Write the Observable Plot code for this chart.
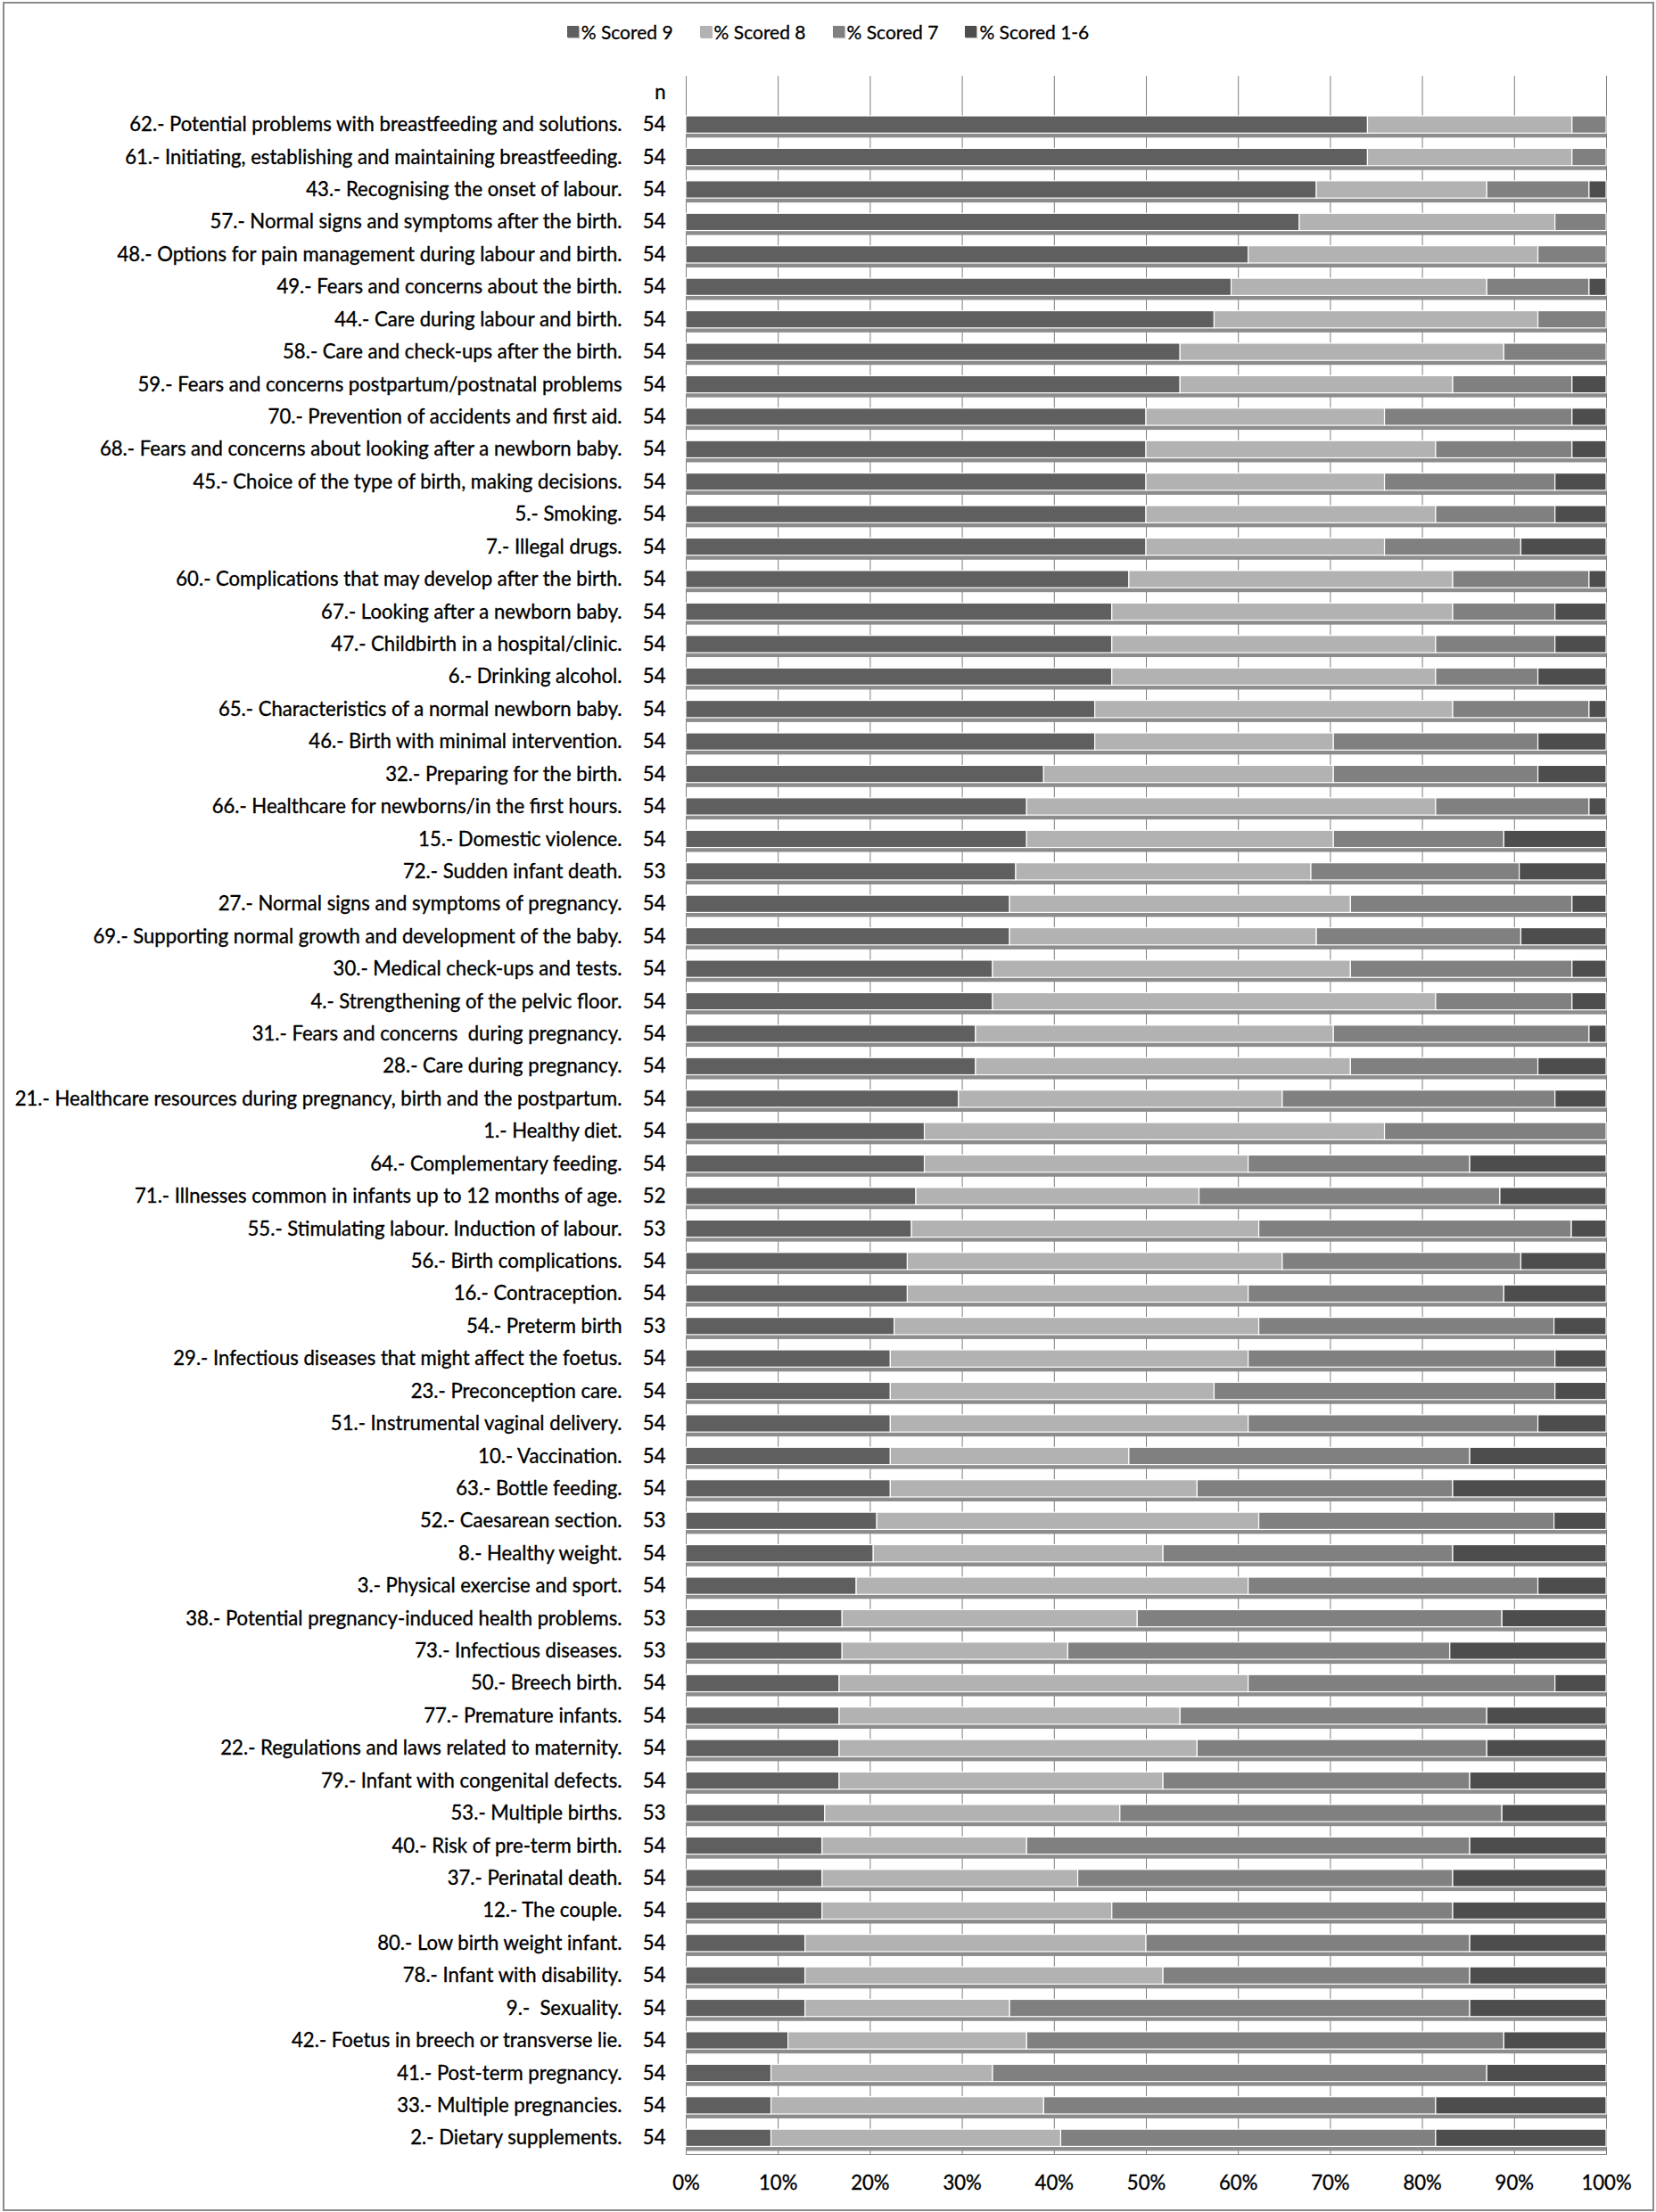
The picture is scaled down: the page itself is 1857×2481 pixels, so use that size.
<!DOCTYPE html>
<html>
<head>
<meta charset="utf-8">
<script src="https://cdn.jsdelivr.net/npm/d3@7"></script>
<script src="https://cdn.jsdelivr.net/npm/@observablehq/plot@0.6"></script>
<style>
  html, body { margin: 0; padding: 0; background: #fff; }
  #page { position: relative; width: 1857px; height: 2481px; overflow: hidden; font-family: Lato, "Noto Sans", sans-serif; }
  #frame { position: absolute; left: 3px; top: 2px; width: 1852px; height: 2478px; border: 2px solid #8a8a8a; box-sizing: border-box; pointer-events: none; }
  #legend { height: 70px; display: flex; justify-content: center; align-items: center; font-size: 21px; color: #000; -webkit-text-stroke: 0.3px #000; }
  #chart { height: 2411px; }
  #chart svg { display: block; }
  .item { display: flex; align-items: center; margin: 0 15px; }
  .sw { width: 13px; height: 13px; margin-right: 3px; box-shadow: 1px 1px 1px #bbb; }
  g[aria-label="bar-shadow"] { filter: blur(1.6px); }
</style>
</head>
<body>
<div id="page">
  <div id="legend"></div>
  <div id="chart"></div>
  <div id="frame"></div>
</div>
<script>
const seriesNames = ["% Scored 9", "% Scored 8", "% Scored 7", "% Scored 1-6"];
const seriesColors = ["#5f5f5f", "#b2b2b2", "#808080", "#4d4d4d"];

const topics = [
  "62.- Potential problems with breastfeeding and solutions.",
  "61.- Initiating, establishing and maintaining breastfeeding.",
  "43.- Recognising the onset of labour.",
  "57.- Normal signs and symptoms after the birth.",
  "48.- Options for pain management during labour and birth.",
  "49.- Fears and concerns about the birth.",
  "44.- Care during labour and birth.",
  "58.- Care and check-ups after the birth.",
  "59.- Fears and concerns postpartum/postnatal problems",
  "70.- Prevention of accidents and first aid.",
  "68.- Fears and concerns about looking after a newborn baby.",
  "45.- Choice of the type of birth, making decisions.",
  "5.- Smoking.",
  "7.- Illegal drugs.",
  "60.- Complications that may develop after the birth.",
  "67.- Looking after a newborn baby.",
  "47.- Childbirth in a hospital/clinic.",
  "6.- Drinking alcohol.",
  "65.- Characteristics of a normal newborn baby.",
  "46.- Birth with minimal intervention.",
  "32.- Preparing for the birth.",
  "66.- Healthcare for newborns/in the first hours.",
  "15.- Domestic violence.",
  "72.- Sudden infant death.",
  "27.- Normal signs and symptoms of pregnancy.",
  "69.- Supporting normal growth and development of the baby.",
  "30.- Medical check-ups and tests.",
  "4.- Strengthening of the pelvic floor.",
  "31.- Fears and concerns  during pregnancy.",
  "28.- Care during pregnancy.",
  "21.- Healthcare resources during pregnancy, birth and the postpartum.",
  "1.- Healthy diet.",
  "64.- Complementary feeding.",
  "71.- Illnesses common in infants up to 12 months of age.",
  "55.- Stimulating labour. Induction of labour.",
  "56.- Birth complications.",
  "16.- Contraception.",
  "54.- Preterm birth",
  "29.- Infectious diseases that might affect the foetus.",
  "23.- Preconception care.",
  "51.- Instrumental vaginal delivery.",
  "10.- Vaccination.",
  "63.- Bottle feeding.",
  "52.- Caesarean section.",
  "8.- Healthy weight.",
  "3.- Physical exercise and sport.",
  "38.- Potential pregnancy-induced health problems.",
  "73.- Infectious diseases.",
  "50.- Breech birth.",
  "77.- Premature infants.",
  "22.- Regulations and laws related to maternity.",
  "79.- Infant with congenital defects.",
  "53.- Multiple births.",
  "40.- Risk of pre-term birth.",
  "37.- Perinatal death.",
  "12.- The couple.",
  "80.- Low birth weight infant.",
  "78.- Infant with disability.",
  "9.-  Sexuality.",
  "42.- Foetus in breech or transverse lie.",
  "41.- Post-term pregnancy.",
  "33.- Multiple pregnancies.",
  "2.- Dietary supplements."
];

const nValues = [54,54,54,54,54,54,54,54,54,54,54,54,54,54,54,54,54,54,54,54,54,54,54,53,54,54,54,54,54,54,54,54,54,52,53,54,54,53,54,54,54,54,54,53,54,54,53,53,54,54,54,54,53,54,54,54,54,54,54,54,54,54,54];

// counts of respondents per score group
const scored9  = [40,40,37,36,33,32,31,29,29,27,27,27,27,27,26,25,25,25,24,24,21,20,20,19,19,19,18,18,17,17,16,14,14,13,13,13,13,12,12,12,12,12,12,11,11,10,9,9,9,9,9,9,8,8,8,8,7,7,7,6,5,5,5];
const scored8  = [12,12,10,15,17,15,19,19,16,14,17,14,17,14,19,20,19,19,21,14,17,24,18,17,20,18,21,26,21,22,19,27,19,16,20,22,20,21,21,19,21,14,18,22,17,23,17,13,24,20,21,19,17,12,15,17,20,21,12,14,13,16,17];
const scored7  = [2,2,6,3,4,6,4,6,7,11,8,10,7,8,8,6,7,6,8,12,12,9,10,12,13,12,13,8,15,11,16,13,13,17,18,14,15,17,18,20,17,20,15,17,17,17,21,22,18,18,17,18,22,26,22,20,19,18,27,28,29,23,22];
const scored16 = [0,0,1,0,0,1,0,0,2,2,2,3,3,5,1,3,3,4,1,4,4,1,6,5,2,5,2,2,1,4,3,0,8,6,2,5,6,3,3,3,4,8,9,3,9,4,6,9,3,7,7,8,6,8,9,9,8,8,8,6,7,10,10];

const xTicks = [0, 0.1, 0.2, 0.3, 0.4, 0.5, 0.6, 0.7, 0.8, 0.9, 1];
const headerKey = "";
const headerText = "n";

const groups = [scored9, scored8, scored7, scored16];
const rows = topics.flatMap((t, i) => groups.map((g, j) => ({topic: t, series: seriesNames[j], count: g[i]})))
  .filter(d => d.count > 0);
const nRows = [{topic: headerKey, n: headerText}, ...topics.map((t, i) => ({topic: t, n: String(nValues[i])}))];

// legend
const legend = document.getElementById("legend");
seriesNames.forEach((s, i) => {
  const it = document.createElement("div");
  it.className = "item";
  const sw = document.createElement("div");
  sw.className = "sw";
  sw.style.background = seriesColors[i];
  const tx = document.createElement("span");
  tx.textContent = s;
  it.appendChild(sw); it.appendChild(tx);
  legend.appendChild(it);
});

// font-size calibration (style only): match the printed width of a few labels
const FONT = "Lato, 'Noto Sans', sans-serif";
const calib = [[0, 553], [2, 351], [60, 251], [61, 264], [62, 242]];
const ctx = document.createElement("canvas").getContext("2d");
ctx.font = "100px " + FONT;
const ratios = calib.map(([i, w]) => w / ctx.measureText(topics[i]).width * 100).sort((a, b) => a - b);
let FS = ratios[Math.floor(ratios.length / 2)];
if (!(FS > 14 && FS < 30)) FS = 20.6;

const chart = Plot.plot({
  width: 1857,
  height: 2411,
  marginTop: 15,
  marginBottom: 65,
  marginLeft: 769,
  marginRight: 56,
  style: {fontFamily: FONT, fontSize: FS + "px", color: "#000", background: "transparent", overflow: "visible"},
  x: {domain: [0, 1], axis: null},
  y: {domain: [headerKey, ...topics], paddingInner: 0.47, paddingOuter: 0.235, align: 0.5, round: false, axis: null},
  color: {domain: seriesNames, range: seriesColors},
  marks: [
    Plot.ruleX(xTicks, {stroke: "#7f7f7f", strokeWidth: 1}),
    Plot.barX(topics, {x1: 0, x2: 1, y: d => d, fill: "#8c8c8c", dy: 5, insetTop: 2, ariaLabel: "bar-shadow"}),
    Plot.barX(rows, Plot.stackX({x: "count", y: "topic", z: "series", fill: "series", offset: "normalize", order: seriesNames, stroke: "#ffffff", strokeWidth: 1.2})),
    Plot.axisY({tickSize: 0, tickPadding: 72, label: null, fill: "#000", textStroke: "#000", textStrokeWidth: 0.35, fontSize: FS}),
    Plot.text(nRows, {y: "topic", text: "n", frameAnchor: "left", textAnchor: "end", dx: -23, fill: "#000", stroke: "#000", strokeWidth: 0.35, fontSize: FS}),
    Plot.axisX({ticks: xTicks, tickFormat: d3.format(".0%"), tickSize: 0, tickPadding: 24, label: null, fill: "#000", textStroke: "#000", textStrokeWidth: 0.35, fontSize: FS}),
    Plot.frame({anchor: "bottom", stroke: "#8a8a8a"})
  ]
});
document.getElementById("chart").appendChild(chart);
</script>
</body>
</html>
